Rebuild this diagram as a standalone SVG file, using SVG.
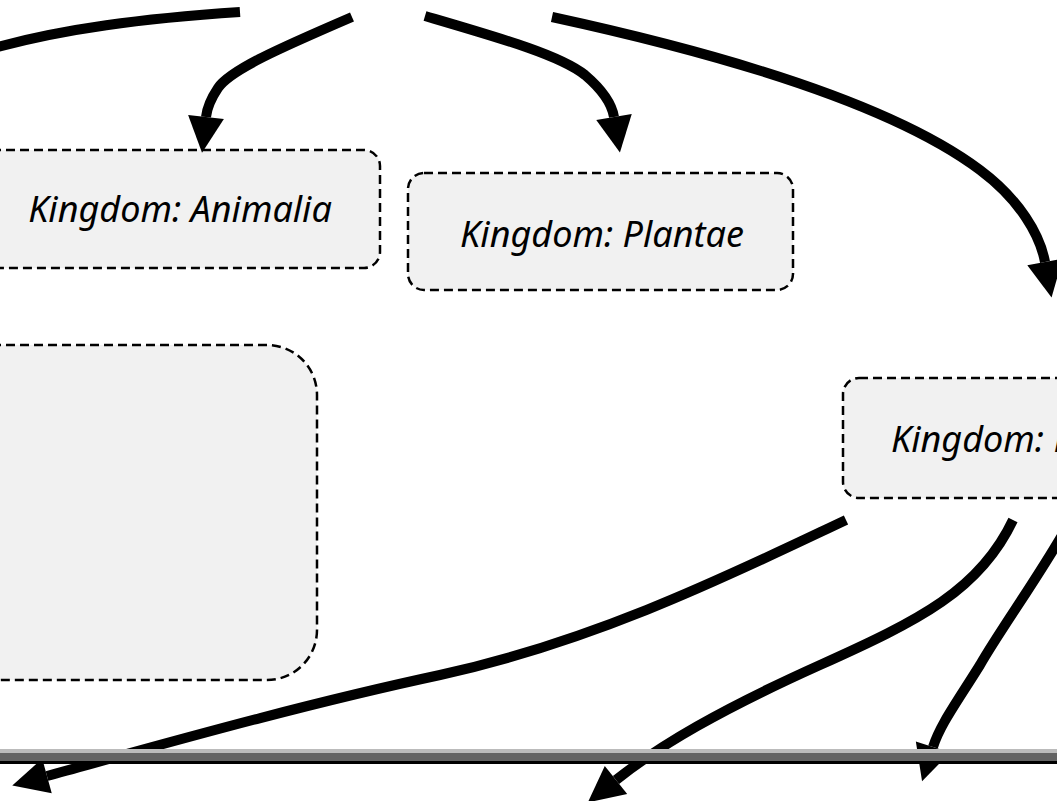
<svg xmlns="http://www.w3.org/2000/svg" width="1057" height="801" viewBox="0 0 1057 801">
<style>
.node rect{fill:#f1f1f1;stroke:#000;stroke-width:2.5;stroke-dasharray:9 5}
.node text{font-family:"Noto Sans","Open Sans","DejaVu Sans",sans-serif;font-style:italic;font-size:36px;fill:#000}
.conn path{fill:none;stroke:#000;stroke-width:10}
</style>
<defs>
<marker id="ah" markerUnits="userSpaceOnUse" markerWidth="36" markerHeight="36" viewBox="0 0 36 36" refX="0" refY="18" orient="auto" overflow="visible">
<path d="M0,0 L36,18 L0,36 Z" fill="#000"/>
</marker>
</defs>
<rect width="1057" height="801" fill="#fff"/>
<g id="node-animalia" class="node">
<rect x="-24" y="150" width="404" height="118" rx="16"/>
<text x="180" y="222" text-anchor="middle">Kingdom: Animalia</text>
</g>
<g id="node-plantae" class="node">
<rect x="408" y="173" width="385" height="117" rx="16"/>
<text x="602" y="247" text-anchor="middle">Kingdom: Plantae</text>
</g>
<g id="node-left" class="node">
<rect x="-100" y="345" width="417" height="335" rx="50"/>
</g>
<g id="node-fungi" class="node">
<rect x="843" y="378" width="400" height="120" rx="16"/>
<text x="891" y="452">Kingdom: Fungi</text>
</g>
<g id="connectors" class="conn">
<path d="M240,12 C150,18 60,28 -20,52"/>
<path d="M352,17 C280,48 230,70 218,88 C210,100 207,108 206,117" marker-end="url(#ah)"/>
<path d="M425,16 C500,38 560,55 585,75 C605,92 612,105 614,117" marker-end="url(#ah)"/>
<path d="M552,17 C750,60 900,110 980,170 C1020,200 1040,235 1045,262" marker-end="url(#ah)"/>
<path d="M846,520 C740,570 600,640 440,675 C300,705 160,745 47,776" marker-end="url(#ah)"/>
<path d="M1013,520 C980,590 920,620 820,665 C720,710 660,745 616,780" marker-end="url(#ah)"/>
<path d="M1068,525 C1040,575 1000,630 980,665 C955,705 940,725 933,747" marker-end="url(#ah)"/>
</g>
<g id="bar">
<rect x="0" y="749" width="1057" height="4" fill="#bbbbbb"/>
<rect x="0" y="753" width="1057" height="8" fill="#636363"/>
<rect x="0" y="761" width="1057" height="3" fill="#000"/>
</g>
</svg>
